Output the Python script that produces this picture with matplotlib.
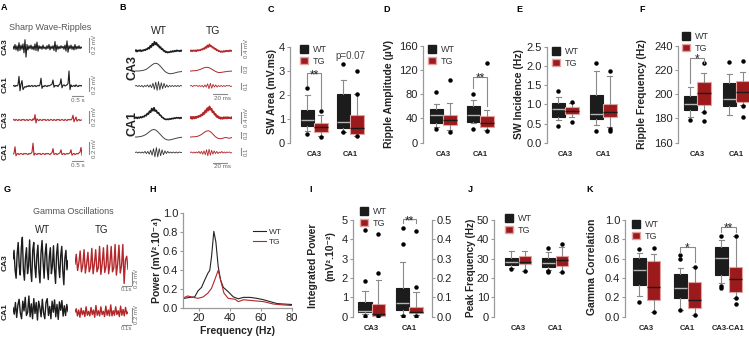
import numpy as np
import matplotlib
matplotlib.use("Agg")
import matplotlib.pyplot as plt
from matplotlib.patches import Patch

plt.rcParams["font.family"] = ["Liberation Sans", "DejaVu Sans"]

W, H = 749, 340
WT_COLOR = "#1c1c1c"
TG_COLOR = "#9c1a1c"
TG_EDGE = "#e3a3a3"
TG_LINE = "#b3262a"
GRAY = "#8a8a8a"
TEXT = "#222222"

# ---- A: sharp wave-ripple raw traces (mV) ----
A_CA3_WT = [0.02, -0.03, 0.05, -0.04, 0.03, -0.06, 0.08, -0.05, 0.04, -0.03, 0.06, -0.09, 0.13, -0.16,
            0.05, -0.04, 0.03, -0.02, 0.04, -0.03, 0.02, -0.04, 0.06, -0.05, 0.09, -0.06, 0.03, -0.02,
            0.02, -0.03, 0.04, -0.02, 0.01, -0.03, 0.03, -0.02, 0.05, -0.04, 0.02, -0.02, 0.03, -0.05,
            0.10, -0.07, 0.04, -0.03, 0.02, -0.02, 0.03, -0.01, 0.02, -0.03, 0.04, -0.06, 0.11, -0.08,
            0.03, -0.02, 0.04, -0.03, 0.02, -0.04, 0.05, -0.03, 0.02, -0.02, 0.03, -0.02, 0.01, -0.01]
A_CA1_WT = [0.0, 0.01, -0.01, 0.01, 0.0, 0.02, 0.16, -0.08, 0.03, 0.09, -0.06, -0.03, -0.01, -0.02,
            0.0, -0.01, 0.01, -0.01, 0.0, 0.01, -0.01, 0.0, 0.01, -0.01, 0.0, 0.01, 0.0, 0.02, 0.13,
            -0.04, 0.0, -0.01, 0.01, 0.0, -0.01, 0.01, 0.0, 0.01, 0.02, 0.03, 0.10, -0.02, 0.01, 0.0,
            0.01, -0.01, 0.02, 0.03, 0.12, -0.03, 0.01, 0.02, 0.0, 0.01, 0.02, 0.04, 0.25, -0.06, 0.02,
            -0.01, 0.0, 0.01, -0.01, 0.02, 0.0, -0.01, 0.01, 0.0, 0.01, 0.0]
A_CA3_TG = [0.0, 0.01, -0.01, 0.01, 0.0, -0.01, 0.01, 0.0, -0.01, 0.01, 0.0, 0.01, -0.01, 0.0, 0.01,
            -0.01, 0.0, 0.01, 0.0, -0.01, 0.02, 0.0, 0.09, -0.05, 0.02, 0.0, -0.01, 0.01, 0.0, -0.01,
            0.01, 0.0, 0.01, -0.01, 0.0, 0.01, -0.01, 0.0, 0.01, 0.0, -0.01, 0.01, 0.0, -0.01, 0.01,
            0.0, 0.01, -0.01, 0.0, 0.01, 0.0, -0.01, 0.01, 0.0, -0.01, 0.01, 0.0, 0.01, 0.0, 0.02, 0.08,
            -0.03, 0.01, 0.05, -0.02, 0.0, 0.01, -0.01, 0.0, 0.0]
A_CA1_TG = [0.0, 0.01, 0.12, -0.03, 0.0, 0.01, -0.01, 0.0, 0.01, 0.0, -0.01, 0.01, 0.0, 0.01, 0.0,
            -0.01, 0.01, 0.0, 0.01, 0.03, 0.18, -0.02, 0.01, 0.0, -0.01, 0.01, 0.0, 0.01, -0.01, 0.0,
            0.01, 0.0, -0.01, 0.01, 0.0, 0.01, 0.0, -0.01, 0.01, 0.02, 0.09, -0.01, 0.0, 0.01, -0.01,
            0.0, 0.01, 0.02, 0.07, -0.01, 0.0, 0.01, -0.01, 0.0, 0.01, 0.0, 0.01, 0.02, 0.07, -0.02,
            0.0, 0.01, -0.01, 0.0, 0.01, 0.0, 0.02, 0.03, 0.11, -0.02]

# ---- B: averaged events (raw / sharp wave / ripple, mV) ----
B_RAW_WT_CA3 = [0.0, 0.03, -0.02, 0.02, 0.0, 0.03, -0.01, 0.02, 0.01, 0.04, 0.02, 0.06, 0.05, 0.10,
                0.07, 0.16, 0.12, 0.22, 0.17, 0.28, 0.20, 0.25, 0.16, 0.18, 0.10, 0.12, 0.05, 0.06, 0.0,
                0.01, -0.04, -0.02, -0.05, -0.03, -0.04, -0.01, -0.03, 0.0, -0.02, 0.01, -0.01, 0.02,
                0.0, 0.01, -0.01, 0.02, 0.0]
B_SW_WT_CA3 = [0.0, 0.0, 0.0, 0.01, 0.02, 0.04, 0.07, 0.12, 0.18, 0.24, 0.29, 0.31, 0.29, 0.23, 0.15,
               0.06, -0.02, -0.07, -0.10, -0.11, -0.10, -0.08, -0.06, -0.04, -0.03, -0.02]
B_RIP_WT_CA3 = [0.0, 0.01, -0.01, 0.01, -0.01, 0.01, -0.02, 0.01, -0.01, 0.02, -0.02, 0.02, -0.03,
                0.05, -0.06, 0.07, -0.08, 0.08, -0.07, 0.06, -0.05, 0.05, -0.03, 0.02, -0.02, 0.01,
                -0.01, 0.01, -0.01, 0.01, -0.01, 0.01, -0.01, 0.01, 0.0]
B_RAW_TG_CA3 = [0.0, 0.02, -0.01, 0.02, 0.0, 0.02, -0.01, 0.03, 0.01, 0.03, 0.02, 0.05, 0.04, 0.08,
                0.06, 0.12, 0.09, 0.17, 0.12, 0.20, 0.14, 0.15, 0.10, 0.11, 0.06, 0.07, 0.02, 0.03,
                -0.01, 0.0, -0.03, -0.01, -0.03, 0.0, -0.02, 0.01, -0.01, 0.01, -0.01, 0.02, 0.0, 0.01]
B_SW_TG_CA3 = [0.0, 0.0, 0.01, 0.01, 0.02, 0.04, 0.06, 0.09, 0.12, 0.14, 0.15, 0.14, 0.11, 0.07, 0.03,
               -0.01, -0.04, -0.06, -0.06, -0.05, -0.04, -0.03, -0.02, -0.01, -0.01, 0.0]
B_RIP_TG_CA3 = [0.0, 0.01, -0.01, 0.01, 0.0, 0.01, -0.01, 0.01, -0.01, 0.01, -0.02, 0.02, -0.02,
                0.04, -0.05, 0.05, -0.04, 0.03, -0.02, 0.02, -0.02, 0.01, -0.01, 0.01, -0.01, 0.01,
                -0.01, 0.01, 0.0, 0.01, -0.01, 0.0]
B_RAW_WT_CA1 = [0.0, 0.02, -0.01, 0.02, 0.0, 0.03, 0.01, 0.04, 0.03, 0.07, 0.06, 0.12, 0.10, 0.18,
                0.15, 0.25, 0.19, 0.27, 0.18, 0.20, 0.13, 0.14, 0.08, 0.07, 0.02, 0.01, -0.02, -0.03,
                -0.04, -0.03, -0.04, -0.02, -0.03, -0.01, -0.02, 0.0, -0.01, 0.01, 0.0, 0.01, -0.01,
                0.01, 0.0]
B_SW_WT_CA1 = [0.0, 0.0, 0.01, 0.02, 0.04, 0.07, 0.11, 0.17, 0.23, 0.28, 0.30, 0.28, 0.22, 0.14, 0.06,
               -0.02, -0.08, -0.11, -0.12, -0.11, -0.09, -0.07, -0.05, -0.03, -0.02, -0.01]
B_RIP_WT_CA1 = [0.0, 0.01, -0.01, 0.01, -0.01, 0.01, -0.01, 0.02, -0.02, 0.02, -0.03, 0.04, -0.05,
                0.07, -0.08, 0.09, -0.08, 0.07, -0.06, 0.05, -0.04, 0.03, -0.02, 0.02, -0.01, 0.01,
                -0.01, 0.01, -0.01, 0.01, -0.01, 0.01, 0.0, 0.0]
B_RAW_TG_CA1 = [0.0, 0.03, -0.02, 0.03, -0.01, 0.03, 0.0, 0.04, 0.02, 0.06, 0.04, 0.09, 0.07, 0.14,
                0.11, 0.20, 0.16, 0.26, 0.20, 0.30, 0.22, 0.24, 0.15, 0.17, 0.09, 0.10, 0.03, 0.05, 0.0,
                0.02, -0.02, 0.01, -0.02, 0.02, -0.01, 0.02, -0.01, 0.02, 0.0, 0.01, -0.01, 0.02]
B_SW_TG_CA1 = [0.0, 0.0, 0.01, 0.01, 0.02, 0.04, 0.07, 0.11, 0.16, 0.21, 0.24, 0.25, 0.22, 0.16, 0.09,
               0.02, -0.03, -0.06, -0.07, -0.06, -0.04, -0.02, -0.03, -0.05, -0.04, -0.02]
B_RIP_TG_CA1 = [0.0, 0.01, -0.01, 0.01, -0.01, 0.01, -0.01, 0.02, -0.02, 0.02, -0.03, 0.03, -0.04,
                0.05, -0.06, 0.06, -0.05, 0.04, -0.03, 0.03, -0.02, 0.02, -0.02, 0.01, -0.01, 0.02,
                -0.01, 0.01, -0.01, 0.01, 0.0, 0.01, -0.01, 0.0]

# ---- G: gamma oscillation traces (mV) ----
G_CA3_WT = [0.05, 0.18, -0.12, -0.25, 0.12, 0.30, -0.06, -0.20, 0.22, 0.38, -0.12, -0.28, 0.06, 0.22,
            -0.18, -0.06, 0.34, -0.12, -0.30, 0.18, 0.30, -0.06, -0.24, 0.10, 0.26, -0.15, -0.32, 0.14,
            0.33, 0.0, -0.25, 0.12, 0.28, -0.10, -0.27, 0.08, 0.22, -0.18, -0.06, 0.25, -0.12, -0.33,
            0.12, 0.28, -0.06, -0.24, 0.10, 0.24, -0.14, -0.35, 0.06, 0.18, -0.12, 0.02]
G_CA3_TG = [0.0, 0.15, -0.10, 0.02, 0.20, -0.12, -0.02, 0.22, -0.14, 0.0, 0.18, -0.12, -0.05, 0.24,
            -0.15, 0.0, 0.22, -0.12, -0.06, 0.27, -0.16, 0.0, 0.25, -0.13, -0.04, 0.29, -0.15, 0.0,
            0.27, -0.12, -0.06, 0.30, -0.17, 0.0, 0.29, -0.14, -0.03, 0.30, -0.30, 0.06, 0.12, -0.08]
G_CA1_WT = [0.02, -0.08, 0.10, -0.13, 0.06, 0.15, -0.06, -0.15, 0.12, -0.03, 0.18, -0.10, -0.05, 0.20,
            -0.12, 0.08, -0.15, 0.16, -0.07, 0.10, -0.17, 0.12, 0.02, -0.12, 0.15, -0.06, -0.15, 0.10,
            0.16, -0.10, 0.04, -0.15, 0.12, -0.05, 0.14, -0.12, 0.07, -0.16, 0.11, -0.02, 0.13, -0.11,
            0.05, -0.10, 0.07, -0.04]
G_CA1_TG = [0.0, 0.05, -0.06, 0.03, -0.08, 0.06, -0.04, 0.02, -0.07, 0.08, -0.05, 0.01, -0.06, 0.07,
            -0.04, 0.03, -0.08, 0.10, -0.05, 0.02, -0.06, 0.08, -0.04, 0.01, -0.07, 0.09, -0.05, 0.03,
            -0.06, 0.11, -0.06, 0.02, -0.05, 0.08, -0.04, 0.02, -0.07, 0.09, -0.05, 0.04, -0.06, 0.07,
            -0.03, 0.0]

# ---- H: CA1 power spectrum ----
H_FREQ_WT = [11, 14.3, 17.5, 19.7, 21.9, 24, 26, 27.2, 28.3, 29.8, 31.1, 32.6, 34.1, 35.9, 39, 42.3,
             45.5, 48.8, 53, 57.4, 61.7, 66, 70.3, 74.6, 80]
H_POW_WT = [0.105, 0.115, 0.12, 0.185, 0.22, 0.30, 0.37, 0.40, 0.54, 0.81, 0.70, 0.44, 0.30, 0.22,
            0.175, 0.12, 0.10, 0.115, 0.115, 0.105, 0.09, 0.07, 0.05, 0.045, 0.04]
H_FREQ_TG = [11, 13, 16.5, 19.7, 23, 26, 28.3, 30.4, 32.6, 34.1, 36.3, 39, 43.4, 45.5, 48.8, 55.3,
             61.7, 68, 74.6, 80]
H_POW_TG = [0.115, 0.13, 0.115, 0.105, 0.12, 0.16, 0.21, 0.30, 0.40, 0.30, 0.16, 0.105, 0.095, 0.07,
            0.09, 0.08, 0.07, 0.045, 0.035, 0.03]

# ---- box plot summaries: [whisker low, q1, median, q3, whisker high] ----
GROUPS = ["CA3", "CA1"]
K_GROUPS = ["CA3", "CA1", "CA3-CA1"]

C_WT = [[0.47, 0.69, 0.95, 1.36, 1.99], [0.46, 0.60, 0.88, 2.01, 2.61]]
C_WT_OUT = [[2.26, 0.35], [3.26, 0.44]]
C_TG = [[0.30, 0.44, 0.64, 0.83, 1.15], [0.30, 0.37, 0.62, 1.16, 2.05]]
C_TG_OUT = [[1.32, 0.24], [2.98, 2.05, 0.26]]

D_WT = [[26, 32, 45.6, 55.5, 63.7], [32, 34.6, 45.6, 60.4, 70]]
D_WT_OUT = [[84, 23], [81, 23]]
D_TG = [[21, 29, 37.4, 45.6, 66], [21, 25.3, 31.9, 44, 54]]
D_TG_OUT = [[103, 18], [131, 19]]

E_WT = [[0.59, 0.68, 0.88, 1.04, 1.2], [0.46, 0.61, 0.74, 1.24, 1.87]]
E_WT_OUT = [[1.35, 0.44], [2.07, 0.30]]
E_TG = [[0.66, 0.74, 0.82, 0.94, 1.04], [0.40, 0.68, 0.79, 1.02, 1.74]]
E_TG_OUT = [[1.05, 0.55], [1.87, 0.35, 0.30]]

F_WT = [[181.5, 187, 191.6, 198.8, 205.7], [182.9, 190.3, 195.8, 209, 216.6]]
F_WT_OUT = [[178.5], [226.8]]
F_TG = [[185.6, 191, 201.3, 209.8, 217.7], [191, 193.8, 202, 211, 218.6]]
F_TG_OUT = [[225.4, 185, 178], [227.6, 190.5, 181]]

I_WT = [[0.12, 0.26, 0.31, 0.74, 1.33], [0.10, 0.34, 0.69, 1.5, 2.84]]
I_WT_OUT = [[1.84, 4.48, 0.05], [3.76, 4.57, 0.05]]
I_TG = [[0.05, 0.05, 0.12, 0.64, 1.9], [0.10, 0.17, 0.26, 0.52, 1.29]]
I_TG_OUT = [[2.24, 4.26, 0.05], [1.52, 4.45, 0.05]]

J_WT = [[25, 26.7, 28.1, 30.2, 34], [24.1, 25.9, 27.9, 30.5, 33.3]]
J_WT_OUT = [[24.7], [35.3, 23.6, 22.9]]
J_TG = [[23.6, 27.1, 28.3, 31.6, 34], [23.3, 26.4, 29.3, 31.6, 36.2]]
J_TG_OUT = [[23.6], [37.8, 23.3]]

K_WT = [[0.21, 0.33, 0.48, 0.61, 0.655], [0.069, 0.19, 0.293, 0.44, 0.507],
        [0.345, 0.43, 0.603, 0.724, 0.793]]
K_WT_OUT = [[0.70, 0.155], [0.64, 0.60, 0.069], [0.838, 0.32, 0.293]]
K_TG = [[0.05, 0.172, 0.303, 0.576, 0.645], [0.017, 0.086, 0.169, 0.362, 0.517],
        [0.197, 0.259, 0.39, 0.51, 0.838]]
K_TG_OUT = [[0.707, 0.05], [0.517, 0.017], [0.838, 0.197, 0.128]]


fig = plt.figure(figsize=(W / 100, H / 100), dpi=100)
ov = fig.add_axes([0, 0, 1, 1])
ov.set_xlim(0, W)
ov.set_ylim(H, 0)
ov.axis("off")


def px_ax(x0, y0, x1, y1):
    return fig.add_axes([x0 / W, 1 - y1 / H, (x1 - x0) / W, (y1 - y0) / H])


def txt(x, y, s, size=6.5, weight="normal", color=TEXT, rot=0, ha="center", va="center"):
    ov.text(x, y, s, fontsize=size, fontweight=weight, color=color, rotation=rot, ha=ha, va=va)


def trace(x0, x1, yc, vals, color, px_per_mv, lw=0.8):
    ax = px_ax(x0, yc - 30, x1, yc + 30)
    ax.plot(np.arange(len(vals)), vals, color=color, lw=lw)
    ax.set_xlim(0, len(vals) - 1)
    ax.set_ylim(-30 / px_per_mv, 30 / px_per_mv)
    ax.axis("off")


def vbar(x, y0, y1):
    ov.plot([x, x], [y0, y1], color=GRAY, lw=0.8)


def hbar(x0, x1, y):
    ov.plot([x0, x1], [y, y], color=GRAY, lw=0.8)


def style_ax(ax):
    for s in ["top", "right"]:
        ax.spines[s].set_visible(False)
    for s in ["left", "bottom"]:
        ax.spines[s].set_color("#9a9a9a")
        ax.spines[s].set_linewidth(0.9)
    ax.tick_params(colors="#9a9a9a", labelcolor=TEXT, labelsize=8, length=2.5, width=0.8, pad=1)


def legend_at(ax, x, y):
    handles = [Patch(facecolor=WT_COLOR, edgecolor=WT_COLOR, label="WT"),
               Patch(facecolor=TG_COLOR, edgecolor=TG_EDGE, label="TG")]
    leg = ax.legend(handles=handles, loc="upper left", bbox_to_anchor=(x / W, 1 - y / H),
                    bbox_transform=fig.transFigure, frameon=False, fontsize=6.5,
                    handlelength=0.9, handleheight=0.9, handletextpad=0.5, labelspacing=0.3,
                    borderpad=0, borderaxespad=0)
    for t in leg.get_texts():
        t.set_color("#333333")


def bracket(ax, xa, xb, top, la, lb, label):
    ax.plot([xa, xa, xb, xb], [la, top, top, lb], color=GRAY, lw=0.8, clip_on=False)
    ax.annotate(label, xy=((xa + xb) / 2, top), xytext=(0, -1.5), textcoords="offset points",
                ha="center", va="center", fontsize=8.5, color=TEXT, annotation_clip=False)


def box_panel(x0, x1, y0, y1, centers, groups, wt, wt_out, tg, tg_out, ylim, yticks, fmt,
              box_px=13.5, gap_px=0.0):
    ax = px_ax(x0, y0, x1, y1)
    unit = centers[1] - centers[0]
    ax.set_xlim((x0 - centers[0]) / unit, (x1 - centers[0]) / unit)
    ax.set_ylim(*ylim)
    w = box_px / unit
    off = (box_px + gap_px) / 2 / unit
    pos = np.arange(len(groups))
    for stats, outs, shift, face, edge, med in [
            (wt, wt_out, -off, WT_COLOR, WT_COLOR, "#b5b5b5"),
            (tg, tg_out, off, TG_COLOR, TG_EDGE, "#1a1a1a")]:
        bstats = [dict(whislo=s[0], q1=s[1], med=s[2], q3=s[3], whishi=s[4], fliers=o)
                  for s, o in zip(stats, outs)]
        ax.bxp(bstats, positions=pos + shift, widths=w, patch_artist=True, manage_ticks=False,
               capwidths=w * 0.4,
               boxprops=dict(facecolor=face, edgecolor=edge, linewidth=0.8),
               medianprops=dict(color=med, linewidth=1.0),
               whiskerprops=dict(color=GRAY, linewidth=0.8),
               capprops=dict(color=GRAY, linewidth=0.8),
               flierprops=dict(marker="o", markersize=2.2, markerfacecolor="k",
                               markeredgecolor="k"))
    style_ax(ax)
    ax.spines["bottom"].set_visible(False)
    ax.set_xticks(pos)
    ax.set_xticklabels(groups, fontweight="bold", fontsize=5.5)
    ax.tick_params(axis="x", length=0, pad=6)
    ax.set_yticks(yticks)
    ax.set_yticklabels([fmt.format(t) for t in yticks])
    return ax, pos, off


# ---------------- panel letters ----------------
for letter, x, y in [("A", 4, 8), ("B", 123, 8), ("C", 271, 9), ("D", 387, 9), ("E", 519, 9),
                     ("F", 642, 9), ("G", 7, 189), ("H", 153, 189), ("I", 311, 189),
                     ("J", 470, 189), ("K", 590, 189)]:
    txt(x, y, letter, size=6.5, weight="bold", color="black")

# ---------------- A ----------------
txt(50, 28, "Sharp Wave-Ripples", size=6.5, color="#555555")
trace(13, 82, 47.5, A_CA3_WT, WT_COLOR, 60, 0.8)
trace(13, 82, 86, A_CA1_WT, WT_COLOR, 60, 0.8)
trace(13, 82, 120, A_CA3_TG, TG_LINE, 60, 0.8)
trace(13, 82, 154, A_CA1_TG, TG_LINE, 60, 0.8)
for lab, y in [("CA3", 47), ("CA1", 85), ("CA3", 120), ("CA1", 152)]:
    txt(5, y, lab, size=6, weight="bold", rot=90)
for y0, y1 in [(38, 52), (78, 91), (111, 123), (142, 154)]:
    vbar(89, y0, y1)
    txt(94.5, (y0 + y1) / 2, "0.2 mV", size=4.3, color="#666666", rot=90)
for yb in [96, 161]:
    hbar(72, 83, yb)
    txt(78, yb + 4.5, "0.5 s", size=4.5, color="#666666")

# ---------------- B ----------------
txt(159, 31, "WT", size=7.5)
txt(213, 31, "TG", size=7.5)
txt(132, 67, "CA3", size=9, weight="bold", rot=90)
txt(132, 124, "CA1", size=9, weight="bold", rot=90)
trace(135, 182, 51, B_RAW_WT_CA3, WT_COLOR, 33, 1.2)
trace(135, 182, 71, B_SW_WT_CA3, "#444444", 25, 0.7)
trace(135, 182, 86, B_RIP_WT_CA3, "#333333", 55, 0.6)
trace(190, 232, 51, B_RAW_TG_CA3, TG_LINE, 33, 1.2)
trace(190, 232, 71, B_SW_TG_CA3, TG_LINE, 25, 0.7)
trace(190, 232, 86, B_RIP_TG_CA3, TG_LINE, 55, 0.6)
trace(135, 182, 118, B_RAW_WT_CA1, WT_COLOR, 38, 1.2)
trace(135, 182, 137, B_SW_WT_CA1, "#444444", 25, 0.7)
trace(135, 182, 152.5, B_RIP_WT_CA1, "#333333", 55, 0.6)
trace(190, 232, 118, B_RAW_TG_CA1, TG_LINE, 38, 1.4)
trace(190, 232, 137, B_SW_TG_CA1, TG_LINE, 25, 0.7)
trace(190, 232, 152.5, B_RIP_TG_CA1, TG_LINE, 55, 0.6)
for y0, y1, lab in [(43, 55, "0.4 mV"), (66, 72, "0.3"), (83, 89, "0.1"),
                    (112, 123, "0.4 mV"), (132, 138, "0.3"), (148, 155, "0.1")]:
    vbar(241, y0, y1)
    txt(246, (y0 + y1) / 2, lab, size=4.3, color="#666666", rot=90)
for yb in [94, 162.5]:
    hbar(213, 227, yb)
    txt(222, yb + 4.5, "20 ms", size=4.5, color="#666666")

# ---------------- C ----------------
ax, pos, off = box_panel(290, 372, 46.7, 142.7, (314, 350), GROUPS, C_WT, C_WT_OUT, C_TG, C_TG_OUT,
                         (0, 4), [0, 1, 2, 3, 4], "{:d}")
legend_at(ax, 300, 45)
bracket(ax, pos[0] - off, pos[0] + off, 2.9, 2.4, 1.45, "**")
ax.text(pos[1], 3.6, "p=0.07", ha="center", va="center", fontsize=7, color="#444444")
txt(271.7, 92, "SW Area (mV.ms)", size=7.5, weight="bold", rot=90)

# ---------------- D ----------------
ax, pos, off = box_panel(422.7, 497, 45.7, 142.7, (443, 480), GROUPS, D_WT, D_WT_OUT, D_TG, D_TG_OUT,
                         (0, 160), [0, 40, 80, 120, 160], "{:d}")
legend_at(ax, 428, 45)
bracket(ax, pos[1] - off, pos[1] + off, 109, 90, 60, "**")
txt(388.5, 94, "Ripple Amplitude (µV)", size=7.5, weight="bold", rot=90)

# ---------------- E ----------------
ax, pos, off = box_panel(546.7, 621, 46.7, 142.7, (565, 603), GROUPS, E_WT, E_WT_OUT, E_TG, E_TG_OUT,
                         (0, 2.5), [0, 0.5, 1.0, 1.5, 2.0, 2.5], "{:.1f}")
legend_at(ax, 552, 47)
txt(519, 94, "SW Incidence (Hz)", size=7.5, weight="bold", rot=90)

# ---------------- F ----------------
ax, pos, off = box_panel(678, 749, 45.7, 142.7, (697, 736), GROUPS, F_WT, F_WT_OUT, F_TG, F_TG_OUT,
                         (160, 240), [160, 180, 200, 220, 240], "{:d}")
legend_at(ax, 682, 32)
bracket(ax, pos[0] - off, pos[0] + off, 230, 209, 226, "*")
txt(641.7, 94, "Ripple Frequency (Hz)", size=7.5, weight="bold", rot=90)

# ---------------- G ----------------
txt(73, 211, "Gamma Oscillations", size=6.5, color="#555555")
txt(43, 230, "WT", size=7)
txt(102, 230, "TG", size=7)
trace(13, 68, 262, G_CA3_WT, WT_COLOR, 65, 1.0)
trace(75, 128, 264, G_CA3_TG, TG_LINE, 65, 1.0)
trace(13, 68, 309, G_CA1_WT, WT_COLOR, 65, 1.0)
trace(75, 128, 312, G_CA1_TG, TG_LINE, 65, 1.0)
txt(5, 263, "CA3", size=6, weight="bold", rot=90)
txt(5, 312, "CA1", size=6, weight="bold", rot=90)
for y0, y1, yb in [(271.7, 285, 285.7), (308, 321.7, 325)]:
    vbar(131.7, y0, y1)
    txt(137, (y0 + y1) / 2, "0.2 mV", size=4.3, color="#666666", rot=90)
    hbar(121.7, 131, yb)
    txt(126, yb + 4, "0.1s", size=4.3, color="#666666")

# ---------------- H ----------------
axh = px_ax(183, 213.3, 292, 308.3)
axh.plot(H_FREQ_WT, H_POW_WT, color="#222222", lw=0.8, label="WT")
axh.plot(H_FREQ_TG, H_POW_TG, color=TG_LINE, lw=0.8, label="TG")
axh.set_xlim(10, 80)
axh.set_ylim(0, 1.0)
axh.set_xticks([20, 40, 60, 80])
axh.set_yticks([0, 0.2, 0.4, 0.6, 0.8, 1.0])
axh.set_yticklabels(["0.0", "0.2", "0.4", "0.6", "0.8", "1.0"])
style_ax(axh)
leg = axh.legend(loc="upper left", bbox_to_anchor=(253 / W, 1 - 228 / H),
                 bbox_transform=fig.transFigure, frameon=False, fontsize=6,
                 handlelength=1.5, handletextpad=0.4, labelspacing=0.3, borderpad=0,
                 borderaxespad=0)
for t in leg.get_texts():
    t.set_color("#333333")
txt(235, 219.5, "CA1", size=8.5, weight="bold")
txt(156.7, 260, "Power (mV².10⁻⁴)", size=7.5, weight="bold", rot=90)
txt(237.5, 331.5, "Frequency (Hz)", size=7.5, weight="bold")

# ---------------- I ----------------
ax, pos, off = box_panel(353, 431.7, 220, 316.7, (371.7, 409.3), GROUPS, I_WT, I_WT_OUT, I_TG, I_TG_OUT,
                         (0, 5), [0, 1, 2, 3, 4, 5], "{:d}")
ax2 = ax.twinx()
ax2.set_ylim(0, 0.5)
ax2.set_yticks([0, 0.1, 0.2, 0.3, 0.4, 0.5])
ax2.set_yticklabels(["0.0", "0.1", "0.2", "0.3", "0.4", "0.5"])
for s in ["top", "left", "bottom"]:
    ax2.spines[s].set_visible(False)
ax2.spines["right"].set_color("#9a9a9a")
ax2.spines["right"].set_linewidth(0.9)
ax2.tick_params(colors="#9a9a9a", labelcolor=TEXT, labelsize=8, length=2.5, width=0.8, pad=1)
legend_at(ax, 360, 207)
bracket(ax, pos[1] - off, pos[1] + off, 5.05, 4.85, 4.85, "**")
txt(313, 266, "Integrated Power", size=7.5, weight="bold", rot=90)
txt(330, 256, "(mV².10⁻²)", size=7.5, weight="bold", rot=90)

# ---------------- J ----------------
ax, pos, off = box_panel(494, 576, 220, 316.7, (518, 555), GROUPS, J_WT, J_WT_OUT, J_TG, J_TG_OUT,
                         (0, 50), [0, 10, 20, 30, 40, 50], "{:d}", box_px=12.5, gap_px=1.0)
legend_at(ax, 505, 214)
txt(471, 268, "Peak Frequency (Hz)", size=7.2, weight="bold", rot=90)

# ---------------- K ----------------
ax, pos, off = box_panel(625, 749, 220, 316.7, (646.5, 687.5), K_GROUPS, K_WT, K_WT_OUT, K_TG, K_TG_OUT,
                         (0, 1.0), [0, 0.2, 0.4, 0.6, 0.8, 1.0], "{:.1f}", box_px=13, gap_px=1.5)
legend_at(ax, 632, 220)
bracket(ax, pos[1] - off, pos[1] + off, 0.724, 0.655, 0.57, "*")
bracket(ax, pos[2] - off, pos[2] + off, 0.93, 0.88, 0.88, "**")
txt(592, 267, "Gamma Correlation", size=7.5, weight="bold", rot=90)

fig.savefig("out.png", dpi=100)
